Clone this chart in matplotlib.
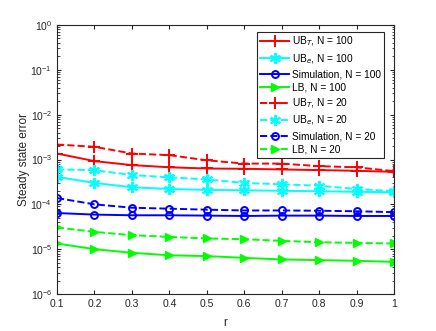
import numpy as np
import matplotlib
matplotlib.use("Agg")
import matplotlib.pyplot as plt
from matplotlib.ticker import LogLocator, NullFormatter

plt.rcParams['font.family'] = ['Liberation Sans', 'DejaVu Sans']

r = [0.1, 0.2, 0.3, 0.4, 0.5, 0.6, 0.7, 0.8, 0.9, 1.0]

ubt_100 = [1.36e-3, 0.92e-3, 0.75e-3, 0.67e-3, 0.63e-3, 0.62e-3, 0.60e-3, 0.58e-3, 0.56e-3, 0.53e-3]
ube_100 = [0.41e-3, 0.30e-3, 0.24e-3, 0.22e-3, 0.21e-3, 0.206e-3, 0.20e-3, 0.196e-3, 0.19e-3, 0.186e-3]
sim_100 = [0.64e-4, 0.59e-4, 0.57e-4, 0.57e-4, 0.56e-4, 0.55e-4, 0.56e-4, 0.56e-4, 0.55e-4, 0.55e-4]
lb_100 = [1.34e-5, 1.0e-5, 0.83e-5, 0.73e-5, 0.70e-5, 0.64e-5, 0.59e-5, 0.57e-5, 0.55e-5, 0.52e-5]

ubt_20 = [2.16e-3, 1.92e-3, 1.36e-3, 1.25e-3, 0.96e-3, 0.81e-3, 0.81e-3, 0.71e-3, 0.67e-3, 0.55e-3]
ube_20 = [0.60e-3, 0.58e-3, 0.45e-3, 0.40e-3, 0.36e-3, 0.30e-3, 0.28e-3, 0.26e-3, 0.22e-3, 0.196e-3]
sim_20 = [1.38e-4, 1.0e-4, 0.84e-4, 0.80e-4, 0.76e-4, 0.73e-4, 0.73e-4, 0.72e-4, 0.70e-4, 0.67e-4]
lb_20 = [3.05e-5, 2.43e-5, 2.05e-5, 1.88e-5, 1.73e-5, 1.67e-5, 1.53e-5, 1.43e-5, 1.38e-5, 1.34e-5]

fig = plt.figure(figsize=(4.36, 3.31), dpi=100)
ax = fig.add_axes([57/436, 1-294/331, (394-57)/436, (294-25)/331])

star = (6, 2, 0)
lw = 1.4
ax.semilogy(r, ubt_100, '-', color='#ff0000', marker='+', ms=8, mew=1.4, lw=lw, label='UB$_T$, N = 100')
ax.semilogy(r, ube_100, '-', color='#00ffff', marker=star, ms=8, mew=1.4, lw=lw, label='UB$_e$, N = 100')
ax.semilogy(r, sim_100, '-', color='#0000ff', marker='o', ms=5, mew=1.4, mfc='none', lw=lw, label='Simulation, N = 100')
ax.semilogy(r, lb_100, '-', color='#00ff00', marker='>', ms=6, lw=lw, label='LB, N = 100')
ax.semilogy(r, ubt_20, '--', color='#ff0000', marker='+', ms=8, mew=1.4, lw=lw, label='UB$_T$, N = 20')
ax.semilogy(r, ube_20, '--', color='#00ffff', marker=star, ms=8, mew=1.4, lw=lw, label='UB$_e$, N = 20')
ax.semilogy(r, sim_20, '--', color='#0000ff', marker='o', ms=5, mew=1.4, mfc='none', lw=lw, label='Simulation, N = 20')
ax.semilogy(r, lb_20, '--', color='#00ff00', marker='>', ms=6, lw=lw, label='LB, N = 20')

ax.set_xlim(0.1, 1)
ax.set_ylim(1e-6, 1e0)
ax.set_xticks(r)
ax.set_xticklabels(['0.1', '0.2', '0.3', '0.4', '0.5', '0.6', '0.7', '0.8', '0.9', '1'])
ax.yaxis.set_major_locator(LogLocator(base=10, numticks=10))
ax.yaxis.set_minor_locator(LogLocator(base=10, subs=np.arange(2, 10), numticks=20))
ax.yaxis.set_minor_formatter(NullFormatter())
ax.tick_params(which='both', direction='in', top=True, right=True, labelsize=7.5, colors='#262626')
ax.tick_params(which='major', length=3)
ax.tick_params(which='minor', length=1.8)
for s in ax.spines.values():
    s.set_color('#262626')
    s.set_linewidth(0.8)

ax.set_xlabel('r', fontsize=8.5, color='#262626', labelpad=6)
ax.set_ylabel('Steady state error', fontsize=8.5, color='#262626', labelpad=0)

leg = ax.legend(loc='upper right', fontsize=7.3, frameon=True, fancybox=False,
                edgecolor='#262626', framealpha=1, handlelength=2.8,
                borderpad=0.3, labelspacing=0.36, handletextpad=0.3,
                borderaxespad=0, bbox_to_anchor=(0.97, 0.975))
leg.get_frame().set_linewidth(0.8)

fig.savefig('out.png', dpi=100)
